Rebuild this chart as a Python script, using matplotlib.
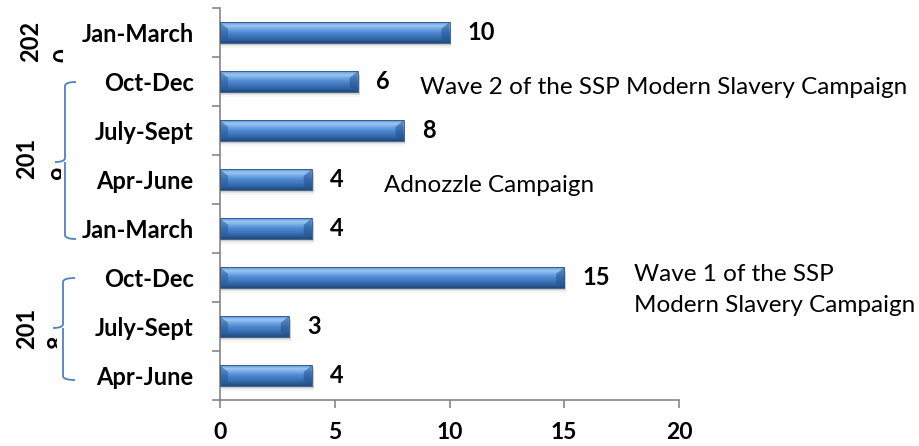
import matplotlib
matplotlib.use("Agg")
import matplotlib.pyplot as plt
import numpy as np
from matplotlib.path import Path
from matplotlib.patches import PathPatch, Rectangle, Polygon
from matplotlib.transforms import IdentityTransform, Bbox
from matplotlib.colors import LinearSegmentedColormap

# --- data (bottom to top) ---
quarters = ["Apr-June", "July-Sept", "Oct-Dec", "Jan-March",
            "Apr-June", "July-Sept", "Oct-Dec", "Jan-March"]
counts = [4, 3, 15, 4, 4, 8, 6, 10]
x_ticks = [0, 5, 10, 15, 20]
years = ["2018", "2019", "2020"]
notes = ["Wave 1 of the SSP\nModern Slavery Campaign",
         "Adnozzle Campaign",
         "Wave 2 of the SSP Modern Slavery Campaign"]

W, H = 919, 446
plt.rcParams["font.family"] = ["Lato", "DejaVu Sans"]
FS_BOLD = 17
FS_NOTE = 17.5

fig = plt.figure(figsize=(W / 100, H / 100), dpi=100)
ax = fig.add_axes([220 / W, (H - 400) / H, (679 - 220) / W, 392 / H])

ypos = np.arange(len(counts))
bar_h = 0.41
grad = LinearSegmentedColormap.from_list(
    "bev", ["#22497a", "#2f63a3", "#3f77bd", "#4d88cf", "#6fa6e6", "#9cc6f2", "#5c93d6"])

for y, v in zip(ypos, counts):
    # soft shadow
    for k, a in enumerate([0.10, 0.07, 0.04]):
        ax.add_patch(Rectangle((0, y - bar_h / 2 - 0.05 - 0.03 * k), v + 0.08,
                               bar_h, color="black", alpha=a, lw=0, zorder=1))
    rect = Rectangle((0, y - bar_h / 2), v, bar_h, facecolor="none",
                     edgecolor="#2b5486", lw=0.6, zorder=3)
    ax.add_patch(rect)
    g = np.linspace(0, 1, 64).reshape(-1, 1)
    im = ax.imshow(g, cmap=grad, aspect="auto", origin="lower",
                   extent=[0, v, y - bar_h / 2, y + bar_h / 2], zorder=2)
    im.set_clip_path(rect)
    # bevel corners
    ax.add_patch(Polygon([(0, y + bar_h / 2), (0.35, y + bar_h / 2 - 0.13),
                          (0.35, y - bar_h / 2 + 0.08), (0, y - bar_h / 2)],
                         closed=True, color="#2a5a96", alpha=0.55, lw=0, zorder=2.5))
    ax.add_patch(Polygon([(v, y + bar_h / 2), (v - 0.35, y + bar_h / 2 - 0.13),
                          (v - 0.35, y - bar_h / 2 + 0.08), (v, y - bar_h / 2)],
                         closed=True, color="#24508a", alpha=0.55, lw=0, zorder=2.5))
    ax.annotate(str(v), (v, y), xytext=(13, 0), textcoords="offset points",
                ha="left", va="center", fontsize=FS_BOLD, fontweight="bold")

ax.set_xlim(0, 20)
ax.set_ylim(-0.5, len(counts) - 0.5)
ax.set_xticks(x_ticks)
ax.set_xticklabels([str(t) for t in x_ticks], fontsize=16.5, fontweight="bold")
ax.set_yticks(ypos)
ax.set_yticklabels(quarters, fontsize=FS_BOLD, fontweight="bold")
ax.set_yticks(np.arange(-0.5, len(counts), 1), minor=True)
ax.tick_params(axis="y", which="major", length=0, pad=19)
ax.tick_params(axis="y", which="minor", length=6, color="#868686", width=1.2)
ax.tick_params(axis="x", length=6, color="#868686", width=1.2, pad=10)
for s in ["top", "right"]:
    ax.spines[s].set_visible(False)
for s in ["left", "bottom"]:
    ax.spines[s].set_color("#868686")
    ax.spines[s].set_linewidth(1.2)

# --- annotations (pixel positions in figure) ---
px = IdentityTransform()
fig.text(634, H - 290, notes[0], transform=px, fontsize=FS_NOTE, va="center",
         ha="left", linespacing=1.55)
fig.text(384, H - 186, notes[1], transform=px, fontsize=FS_NOTE, va="center", ha="left")
fig.text(420, H - 88, notes[2], transform=px, fontsize=FS_NOTE, va="center", ha="left")


# --- year group labels with braces ---
def year_label(year, xc, yc, x_last, y_last, clip_x):
    fig.text(xc, H - yc, year[:3], transform=px, rotation=90, fontsize=FS_BOLD,
             fontweight="bold", ha="center", va="center")
    t = fig.text(x_last, H - y_last, year[3], transform=px, rotation=90,
                 fontsize=FS_BOLD, fontweight="bold", ha="center", va="center")
    t.set_clip_box(Bbox([[0, 0], [clip_x, H]]))
    t.set_clip_on(True)


def brace(x, top, mid, bottom, hook, notch):
    r = 4
    verts = [(x + hook, H - top), (x, H - top), (x, H - top - r),
             (x, H - mid + r), (x, H - mid), (x - notch, H - mid),
             (x, H - mid), (x, H - mid - r),
             (x, H - bottom + r), (x, H - bottom), (x + hook, H - bottom)]
    codes = [Path.MOVETO, Path.CURVE3, Path.CURVE3,
             Path.LINETO, Path.CURVE3, Path.CURVE3,
             Path.MOVETO, Path.LINETO,
             Path.LINETO, Path.CURVE3, Path.CURVE3]
    fig.patches.append(PathPatch(Path(verts, codes), transform=px, fill=False,
                                 edgecolor="#4f81bd", lw=1.3))


year_label(years[2], 31, 41, 64, 55, 63)
year_label(years[1], 27, 158, 62, 172, 61)
year_label(years[0], 27, 328, 58, 342, 57)
brace(65, 82, 162, 239, 11, 10)
brace(63, 278, 328, 380, 12, 10)

fig.savefig("out.png", dpi=100)
